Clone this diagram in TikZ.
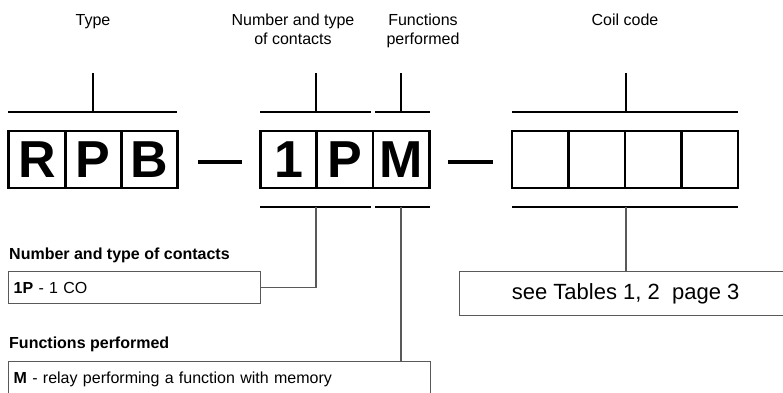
\documentclass[tikz,border=0pt]{standalone}
\usepackage{fontspec}
\setmainfont{Liberation Sans}
\begin{document}
\begin{tikzpicture}[x=1pt,y=-1pt,
  lbox/.style={draw, line width=2.8pt, minimum width=56.3pt, minimum height=57pt, inner sep=0pt,
    font=\bfseries\fontsize{52}{52}\selectfont},
  cbox/.style={lbox, minimum width=56.5pt},
  brk/.style={line width=1.5pt},
  conn/.style={line width=1.3pt, draw=black!65},
  dbox/.style={draw=black!65, line width=1.3pt, anchor=north west, inner xsep=5pt, inner ysep=0pt,
    align=left, font=\fontsize{16}{19}\selectfont},
  toplbl/.style={align=center, anchor=base, inner sep=0pt, font=\fontsize{16}{19}\selectfont},
  ttl/.style={anchor=base west, inner sep=0pt, font=\bfseries\fontsize{16}{19}\selectfont},
  dashline/.style={line width=4.8pt}
]
\useasboundingbox (0,0) rectangle (783,392);
\clip (0,0) rectangle (783,392);

% top labels (base anchor = baseline of last line)
\node[toplbl] (lType) at (93,25) {Type};
\node[toplbl] (lNum) at (293,44) {Number and type\\of contacts};
\node[toplbl] (lFun) at (423,44) {Functions\\performed};
\node[toplbl] (lCoil) at (625,25) {Coil code};

% letter boxes
\node[lbox] (R) at (37,159.5) {R};
\node[lbox] (P1) at (93.3,159.5) {P};
\node[lbox] (B) at (149.6,159.5) {B};
\node[lbox] (n1) at (288.5,159.5) {1};
\node[lbox] (P2) at (344.8,159.5) {P};
\node[lbox] (M) at (401.1,159.5) {M};
\node[cbox] (c1) at (540.25,159.5) {};
\node[cbox] (c2) at (596.75,159.5) {};
\node[cbox] (c3) at (653.25,159.5) {};
\node[cbox] (c4) at (709.75,159.5) {};

% dashes
\coordinate (d1a) at (198,162); \coordinate (d1b) at (242,162);
\coordinate (d2a) at (448,162); \coordinate (d2b) at (493,162);
\draw[dashline] (d1a) -- (d1b);
\draw[dashline] (d2a) -- (d2b);

% top brackets
\coordinate (tT) at (93,73); \coordinate (tTb) at (93,112);
\coordinate (tN) at (316,73); \coordinate (tNb) at (316,112);
\coordinate (tF) at (401,73); \coordinate (tFb) at (401,112);
\coordinate (tC) at (626,73); \coordinate (tCb) at (626,112);
\draw[brk] (8,112) -- (177,112);
\draw[brk] (tT) -- (tTb);
\draw[brk] (260,112) -- (371,112);
\draw[brk] (tN) -- (tNb);
\draw[brk] (375,112) -- (430,112);
\draw[brk] (tF) -- (tFb);
\draw[brk] (512,112) -- (738,112);
\draw[brk] (tC) -- (tCb);

% bottom brackets
\coordinate (bN) at (316,207);
\coordinate (bF) at (401,207);
\coordinate (bC) at (626,207);
\draw[brk] (260,207) -- (371,207);
\draw[brk] (375,207) -- (430,207);
\draw[brk] (512,207) -- (738,207);

% titles
\node[ttl] (tNum) at (9,259) {Number and type of contacts};
\node[ttl] (tFun) at (9,348) {Functions performed};

% description boxes
\node[dbox, text width=242pt, minimum height=32pt] (dN) at (8,271) {\textbf{1P} - 1 CO};
\node[dbox, text width=412pt, minimum height=36pt] (dF) at (8,361) {\textbf{M} - relay performing a function with memory};
\node[draw=black!65, line width=1.3pt, anchor=north west, minimum width=332pt, minimum height=44pt,
  inner sep=0pt, font=\fontsize{22}{26}\selectfont] (dC) at (459,271) {see Tables 1, 2\ \ page 3};

% connectors
\draw[conn] (bN) |- (dN.east);
\draw[conn] (bF) -- (bF |- dF.north);
\draw[conn] (bC) -- (bC |- dC.north);
\end{tikzpicture}
\end{document}
